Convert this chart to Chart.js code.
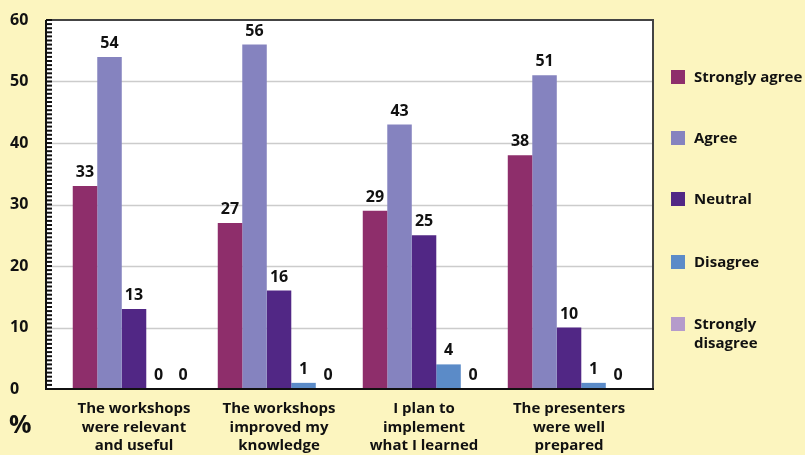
<!DOCTYPE html>
<html>
<head>
<meta charset="utf-8">
<script src="https://cdn.jsdelivr.net/npm/chart.js@4.4.0/dist/chart.umd.min.js"></script>
<style>
  html, body { margin: 0; padding: 0; background: #fcf5bf; }
  #wrap { position: relative; width: 805px; height: 455px; font-family: "Open Sans", Lato, sans-serif; font-weight: bold; color: #111; }
  #chart { position: absolute; left: 0; top: 0; }
  .legend { position: absolute; left: 671px; font-size: 15px; line-height: 19px; }
  .legend span.box { position: absolute; left: 0; top: 2px; width: 14px; height: 14px; }
  .legend span.txt { position: absolute; left: 23px; top: -1px; white-space: nowrap; }
  #pct { position: absolute; left: 9px; top: 406px; font-size: 25px; }
</style>
</head>
<body>
<div id="wrap">
  <canvas id="chart" width="805" height="455"></canvas>
  <div id="legend"></div>
  <div id="pct">%</div>
</div>
<script>
const categories = [
    ['The workshops', 'were relevant', 'and useful'],
    ['The workshops', 'improved my', 'knowledge'],
    ['I plan to', 'implement', 'what I learned'],
    ['The presenters', 'were well', 'prepared']
];
const seriesNames = ['Strongly agree', 'Agree', 'Neutral', 'Disagree', 'Strongly disagree'];
const seriesColors = ['#8e2e6b', '#8583bf', '#512785', '#5b8bc8', '#b59bcb'];
const stronglyAgree = [33, 27, 29, 38];
const agree = [54, 56, 43, 51];
const neutral = [13, 16, 25, 10];
const disagree = [0, 1, 4, 1];
const stronglyDisagree = [0, 0, 0, 0];
const yTicks = [0, 10, 20, 30, 40, 50, 60];

const seriesValues = [stronglyAgree, agree, neutral, disagree, stronglyDisagree];
const FONT = '"Open Sans", Lato, sans-serif';

// legend in html, so the last label can wrap on two lines
const legendTops = [68, 129, 190, 253, 315];
const legendEl = document.getElementById('legend');
seriesNames.forEach((name, i) => {
    const item = document.createElement('div');
    item.className = 'legend';
    item.style.top = legendTops[i] + 'px';
    const txt = name === 'Strongly disagree' ? 'Strongly<br>disagree' : name;
    item.innerHTML = '<span class="box" style="background:' + seriesColors[i] + '"></span><span class="txt">' + txt + '</span>';
    legendEl.appendChild(item);
});

function line(ctx, x1, y1, x2, y2) {
    ctx.beginPath();
    ctx.moveTo(x1, y1);
    ctx.lineTo(x2, y2);
    ctx.stroke();
}

// white plot, grid, frame and small ticks on the left axis
const framePlugin = {
    id: 'frame',
    beforeDatasetsDraw(chart) {
        const { ctx, chartArea: a, scales: { y } } = chart;
        ctx.save();
        ctx.fillStyle = '#ffffff';
        ctx.fillRect(a.left, a.top, a.right - a.left, a.bottom - a.top);
        ctx.strokeStyle = '#cccccc';
        ctx.lineWidth = 1.5;
        yTicks.forEach(v => {
            if (v === 0 || v === 60) return;
            const py = Math.round(y.getPixelForValue(v)) + 0.5;
            line(ctx, a.left, py, a.right, py);
        });
        ctx.restore();
    },
    afterDatasetsDraw(chart) {
        const { ctx, chartArea: a, scales: { y } } = chart;
        ctx.save();
        ctx.lineWidth = 2;
        ctx.strokeStyle = '#444444';
        line(ctx, a.left, a.top, a.right + 1, a.top);
        line(ctx, a.right, a.top, a.right, a.bottom);
        ctx.strokeStyle = '#111111';
        line(ctx, a.left, a.top, a.left, a.bottom + 1);
        line(ctx, a.left, a.bottom, a.right + 1, a.bottom);
        for (let k = 0; k <= 90; k++) {
            const py = y.getPixelForValue(k * 60 / 90);
            line(ctx, a.left, py, a.left + 6, py);
        }
        // value labels above bars
        ctx.fillStyle = '#111111';
        ctx.font = 'bold 16px ' + FONT;
        ctx.textAlign = 'center';
        ctx.textBaseline = 'alphabetic';
        chart.data.datasets.forEach((ds, i) => {
            chart.getDatasetMeta(i).data.forEach((bar, j) => {
                ctx.fillText(String(ds.data[j].y), bar.x, bar.y - 9);
            });
        });
        ctx.restore();
    }
};

new Chart(document.getElementById('chart'), {
    type: 'bar',
    data: {
        datasets: seriesNames.map((name, i) => ({
            label: name,
            data: seriesValues[i].map((v, j) => ({ x: j, y: v })),
            backgroundColor: seriesColors[i],
            borderWidth: 0,
            barPercentage: 1,
            categoryPercentage: 0.845
        }))
    },
    options: {
        responsive: false,
        animation: false,
        layout: { padding: { left: 10, right: 152, top: 20, bottom: 0 } },
        plugins: {
            legend: { display: false },
            tooltip: { enabled: false }
        },
        scales: {
            x: {
                type: 'linear',
                min: -0.607,
                max: 3.579,
                offset: false,
                grid: { display: false, drawTicks: false, offset: false },
                border: { display: false },
                afterBuildTicks: scale => { scale.ticks = [0, 1, 2, 3].map(v => ({ value: v })); },
                afterFit: scale => { scale.height = 66; },
                ticks: {
                    padding: 11,
                    color: '#111',
                    maxRotation: 0,
                    autoSkip: false,
                    font: { family: FONT, size: 15, weight: 'bold', lineHeight: 1.22 },
                    callback: v => categories[v]
                }
            },
            y: {
                min: 0,
                max: 60,
                grid: { display: false, drawTicks: false },
                border: { display: false },
                afterFit: scale => { scale.width = 36; },
                ticks: {
                    stepSize: 10,
                    padding: 8,
                    crossAlign: 'far',
                    color: '#111',
                    font: { family: FONT, size: 16, weight: 'bold' }
                }
            }
        }
    },
    plugins: [framePlugin]
});
</script>
</body>
</html>
